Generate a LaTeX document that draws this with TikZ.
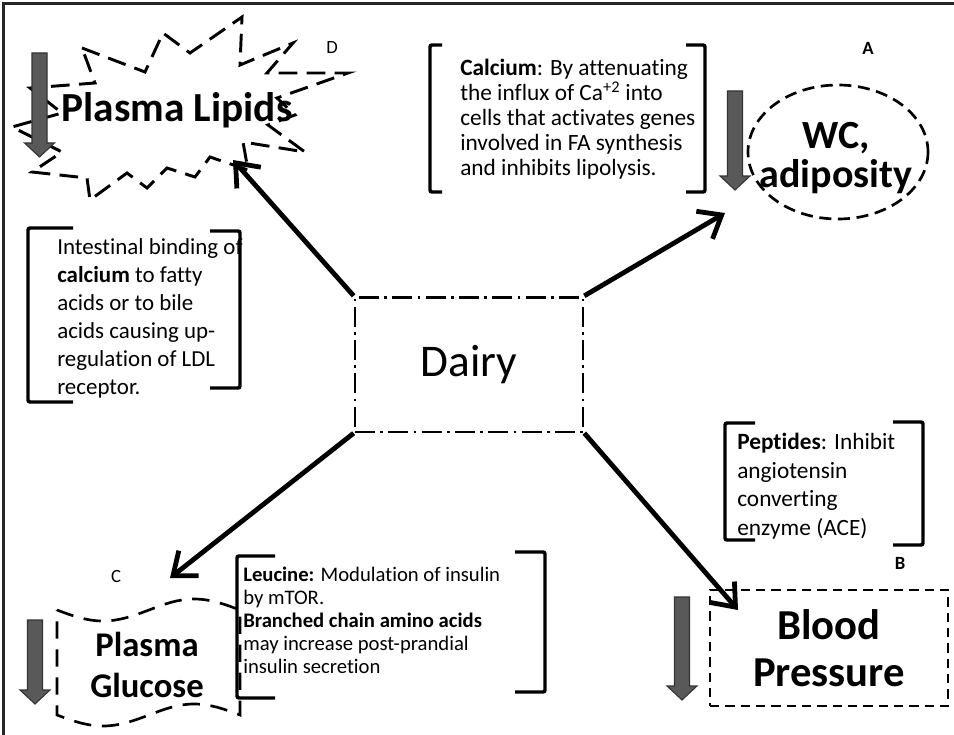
\documentclass[tikz,border=0pt]{standalone}
\usepackage{fontspec}
\setmainfont[Ligatures={NoCommon}]{Carlito}
\usetikzlibrary{arrows.meta,positioning}
\newcommand{\fallarrow}[3]{%
  \filldraw[fall] (#1-7.5,#2) -- (#1+7.5,#2) -- (#1+7.5,#3-14) -- (#1+15,#3-14)
    -- (#1,#3) -- (#1-15,#3-14) -- (#1-7.5,#3-14) -- cycle;}
\begin{document}
\begin{tikzpicture}[x=0.75pt,y=-0.75pt,
    link/.style={line width=3.6pt,-{Straight Barb[length=15pt,width=24pt]}},
    bracket/.style={line width=2.6pt,rounded corners=1.5pt},
    fall/.style={fill=black!65,draw=black!80,line width=0.8pt},
    title/.style={font=\bfseries\fontsize{30}{29}\selectfont,align=center,inner sep=0pt},
    note/.style={anchor=north west,inner sep=0pt,align=left},
    tag/.style={inner sep=0pt,font=\fontsize{14}{16}\selectfont}]
  \useasboundingbox (0,0) rectangle (954,735);
  \draw[line width=2.2pt,black!85] (954,3.5) -- (3.5,3.5) -- (3.5,735);

  % centre
  \node[draw,line width=2pt,dash pattern=on 15pt off 4pt on 2pt off 4pt,
        minimum width=171pt,minimum height=101pt,
        font=\fontsize{34}{40}\selectfont] (dairy) at (469,364.5) {Dairy};

  % D: plasma lipids
  \draw[line width=2.2pt,dash pattern=on 14pt off 7pt]
    (82,48) -- (145,72) -- (163,33) -- (190,53) -- (242,17) -- (240,65)
    -- (293,43) -- (267,73) -- (348,73) -- (277,98) -- (295,115) -- (268,125)
    -- (305,152) -- (243,142) -- (248,170) -- (210,157) -- (195,177)
    -- (167,168) -- (147,188) -- (127,173) -- (90,200) -- (87,178) -- (32,172)
    -- (62,152) -- (12,127) -- (62,113) -- (30,88) -- (95,83) -- cycle;
  \node[title,font=\bfseries\fontsize{31}{30}\selectfont] (lipids) at (177,110) {Plasma Lipids};
  \node[tag] (tagD) at (332,48) {D};
  \fallarrow{39.5}{53}{157}

  % A: waist circumference
  \draw[line width=2pt,dash pattern=on 9pt off 5pt] (838,152) ellipse [x radius=90,y radius=67];
  \node[title] (wc) at (836,158) {WC,\\adiposity};
  \node[tag,font=\bfseries\fontsize{14}{16}\selectfont] (tagA) at (868,48) {A};
  \fallarrow{735}{91}{190}
  \draw[bracket] (442,45) -- (430,45) -- (430,192) -- (442,192);
  \draw[bracket] (686,45) -- (705,45) -- (705,192) -- (686,192);
  \node[note,font=\fontsize{17.5}{18.75}\selectfont] (calcium) at (460,59)
    {\textbf{Calcium}: By attenuating\\the influx of Ca\textsuperscript{+2} into\\cells that activates genes\\involved in FA synthesis\\and inhibits lipolysis.};

  % lipid mechanism
  \draw[bracket] (73,228) -- (28,228) -- (28,402) -- (73,402);
  \draw[bracket] (210,231) -- (240,231) -- (240,388) -- (210,388);
  \node[note,font=\fontsize{17.2}{21}\selectfont] (binding) at (57,238)
    {Intestinal binding of\\\textbf{calcium} to fatty\\acids or to bile\\acids causing up-\\regulation of LDL\\receptor.};

  % B: blood pressure
  \draw[bracket] (755,423) -- (725,423) -- (725,540) -- (755,540);
  \draw[bracket] (893,422) -- (923,422) -- (923,545) -- (893,545);
  \node[note,font=\fontsize{17.5}{21.4}\selectfont] (peptides) at (737,433)
    {\textbf{Peptides}: Inhibit\\angiotensin\\converting\\enzyme (ACE)};
  \node[tag,font=\bfseries\fontsize{14}{16}\selectfont] (tagB) at (900,563) {B};
  \node[title,draw,font=\bfseries\fontsize{32}{35}\selectfont,line width=1.8pt,
        dash pattern=on 7pt off 4.5pt,minimum width=178.5pt,minimum height=87pt]
        (bp) at (829,648) {Blood\\Pressure};
  \fallarrow{682}{597}{700}

  % C: plasma glucose
  \draw[line width=2pt,dash pattern=on 13pt off 8pt]
    (57,610) sin (103,621) cos (149,610) sin (194,599) cos (240,610)
    -- (240,715) sin (194,704) cos (149,715) sin (103,726) cos (57,715) -- cycle;
  \node[title,font=\bfseries\fontsize{26}{31}\selectfont] (glucose) at (147,665) {Plasma\\Glucose};
  \node[tag] (tagC) at (116,577) {C};
  \fallarrow{35}{620}{704}
  \draw[bracket] (275,556) -- (237,556) -- (237,698) -- (275,698);
  \draw[bracket] (515,552) -- (545,552) -- (545,692) -- (515,692);
  \node[note,font=\fontsize{15.5}{17.25}\selectfont] (leucine) at (243,567)
    {\textbf{Leucine:} Modulation of insulin\\by mTOR.\\\textbf{Branched chain amino acids}\\may increase post-prandial\\insulin secretion};

  % effects of dairy
  \coordinate (lipids end) at (233,160);
  \coordinate (wc end) at (725,213);
  \coordinate (glucose end) at (170,578);
  \coordinate (bp end) at (738,610);
  \draw[link] (dairy.north west) -- (lipids end);
  \draw[link] (dairy.north east) -- (wc end);
  \draw[link] (dairy.south west) -- (glucose end);
  \draw[link] (dairy.south east) -- (bp end);
\end{tikzpicture}
\end{document}
